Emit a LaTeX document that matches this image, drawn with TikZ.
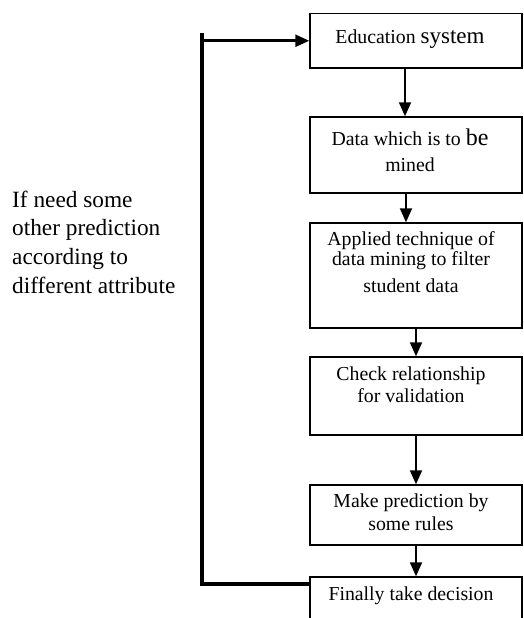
\documentclass[tikz,border=0pt]{standalone}
\usepackage{fontspec}
\setmainfont{Liberation Serif}
\usetikzlibrary{arrows.meta}
\begin{document}
\begin{tikzpicture}[x=1pt,y=-1pt,
  stepbox/.style={draw=black,line width=1.5pt,rectangle,inner sep=0pt,minimum width=212pt},
  boxtxt/.style={anchor=base,inner sep=0pt,font=\fontsize{19.8}{24}\selectfont},
  sidetxt/.style={anchor=base west,inner sep=0pt,font=\fontsize{23.3}{28.7}\selectfont},
  arr/.style={line width=2pt,-{Triangle[length=14pt,width=12pt]}},
  fb/.style={line width=3.2pt}]
\useasboundingbox (0,0) rectangle (524,618);
\clip (0,0) rectangle (524,618);
% boxes
\node[stepbox,minimum height=54.5pt] (b1) at (416,40.75) {};
\node[stepbox,minimum height=76pt] (b2) at (416,155) {};
\node[stepbox,minimum height=105pt] (b3) at (416,275.5) {};
\node[stepbox,minimum height=78pt] (b4) at (416,396) {};
\node[stepbox,minimum height=60pt] (b5) at (416,515) {};
\node[stepbox,minimum height=63pt] (b6) at (416,608.5) {};
% texts
\node[boxtxt] (t1) at (410,43.3) {\fontsize{19.8}{24}\selectfont Education \fontsize{23}{24}\selectfont system};
\node[boxtxt] (t2a) at (410,145.7) {Data which is to \fontsize{24}{24}\selectfont be};
\node[boxtxt] (t2b) at (410,171) {mined};
\node[boxtxt] (t3a) at (411,245.7) {Applied technique of};
\node[boxtxt] (t3b) at (411,265) {data mining to filter};
\node[boxtxt] (t3c) at (411,292.7) {student data};
\node[boxtxt] (t4a) at (411,380) {Check relationship};
\node[boxtxt] (t4b) at (411,402.7) {for validation};
\node[boxtxt] (t5a) at (411,507) {Make prediction by};
\node[boxtxt] (t5b) at (411,530) {some rules};
\node[boxtxt] (t6) at (411,600) {Finally take decision};
% side text
\node[sidetxt] (s1) at (12,207) {If need some};
\node[sidetxt] (s2) at (12,235.7) {other prediction};
\node[sidetxt] (s3) at (12,264.4) {according to};
\node[sidetxt] (s4) at (12,293) {different attribute};
% arrows
\draw[arr] ([xshift=-11pt]b1.south) -- ([xshift=-11pt]b2.north);
\draw[arr] ([xshift=-10pt]b2.south) -- ([xshift=-10pt]b3.north);
\draw[arr] (b3.south) -- (b4.north);
\draw[arr] (b4.south) -- (b5.north);
\draw[arr] (b5.south) -- (b6.north);
% feedback
\coordinate (ctop) at (202,33);
\draw[fb] ([yshift=24.5pt]b6.west) -| (ctop);
\draw[arr,line width=2.5pt] (ctop |- b1.west) -- (b1.west);
\end{tikzpicture}
\end{document}
